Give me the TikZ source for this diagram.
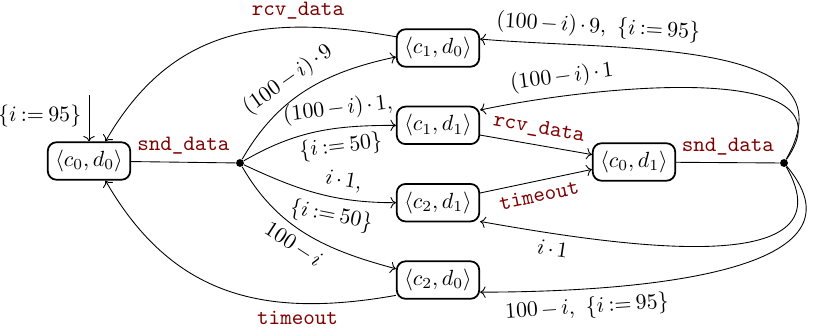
\documentclass[tikz,border=0pt]{standalone}
\usepackage{xcolor}
\usetikzlibrary{arrows.meta,positioning}
\definecolor{actred}{RGB}{128,0,0}
\medmuskip=2.5mu plus 1mu minus 2mu
\thickmuskip=3.5mu plus 2mu

\begin{document}
\begin{tikzpicture}[
  x=0.016cm, y=-0.016cm,
  node distance=0.61cm,
  state/.style={rectangle,draw=black,thick,rounded corners=4pt,minimum width=1.32cm,minimum height=0.6cm},
  junc/.style={circle,fill=black,inner sep=0pt,minimum size=3.6pt},
  act/.style={text=actred,font=\ttfamily},
  arr/.style={->}
]
\useasboundingbox (0,0) rectangle (814,329);
\node[state] (c0d0) at (89,161) {$\langle c_0,d_0\rangle$};
\node[junc] (split1) at (240,163) {};
\node[state] (c1d0) at (438,48) {$\langle c_1,d_0\rangle$};
\node[state,below=of c1d0] (c1d1) {$\langle c_1,d_1\rangle$};
\node[state,below=of c1d1] (c2d1) {$\langle c_2,d_1\rangle$};
\node[state,below=of c2d1] (c2d0) {$\langle c_2,d_0\rangle$};
\node[state] (c0d1) at (634,162) {$\langle c_0,d_1\rangle$};
\node[junc] (split2) at (784,163) {};
\coordinate (start) at (89,95);
% initial
\draw[arr] (start) -- node[left,yshift=1pt]{$\{i := 95\}$} (c0d0);
% sender side
\draw (c0d0) -- node[act,above]{snd\_data} (split1);
\draw[arr] (split1) to[out=60,in=192] node[sloped,above,pos=0.45]{$(100-i)\cdot 9$} (c1d0);
\draw[arr] (split1) to[out=30,in=180] node[sloped,above,pos=0.66]{$(100-i)\cdot 1,$} node[sloped,below,pos=0.65]{$\{i := 50\}$} (c1d1);
\draw[arr] (split1) to[out=-25,in=180] node[sloped,above,pos=0.66]{$i\cdot 1,$} node[sloped,below,pos=0.62]{$\{i := 50\}$} (c2d1);
\draw[arr] (split1) to[out=-60,in=165] node[sloped,below,pos=0.47]{$100-i$} (c2d0);
\draw[arr] (c1d0.165) to[out=170,in=60,looseness=1.1] node[act,above,pos=0.27]{rcv\_data} (c0d0.50);
\draw[arr] (c2d0.200) to[out=190,in=-60,looseness=1.1] node[act,below,pos=0.27]{timeout} (c0d0.-50);
% receiver side
\draw[arr] (c1d1.-13) -- node[act,sloped,above]{rcv\_data} (c0d1.170);
\draw[arr] (c2d1.13) -- node[act,sloped,below]{timeout} (c0d1.190);
\draw (c0d1) -- node[act,above]{snd\_data} (split2);
\draw[arr] (split2) to[out=60,in=-5,looseness=1.1] node[sloped,above,pos=0.75]{$(100-i)\cdot 9,\ \{i := 95\}$} (c1d0.12);
\draw[arr] (split2) to[out=55,in=12] node[sloped,above,pos=0.8]{$(100-i)\cdot 1$} (c1d1.20);
\draw[arr] (split2) to[out=-60,in=-10,looseness=1.1] node[sloped,below,pos=0.83]{$i\cdot 1$} (c2d1.-24);
\draw[arr] (split2) to[out=-50,in=0,looseness=1.1] node[sloped,below,pos=0.78]{$100-i,\ \{i := 95\}$} (c2d0.-16);
\end{tikzpicture}
\end{document}
